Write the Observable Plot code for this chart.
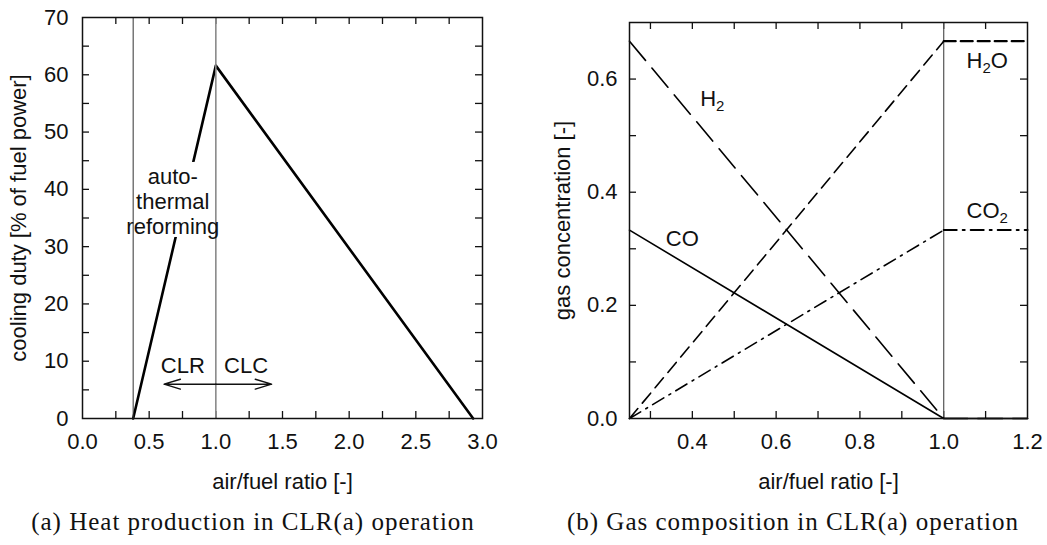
<!DOCTYPE html>
<html><head><meta charset="utf-8">
<script src="https://cdn.jsdelivr.net/npm/d3@7"></script>
<script src="https://cdn.jsdelivr.net/npm/@observablehq/plot@0.6"></script>
<style>
body{margin:0;background:#fff;}
#wrap{position:relative;width:1047px;height:545px;overflow:hidden;background:#fff;}
#left{position:absolute;left:0;top:0;}
#right{position:absolute;left:527px;top:0;}
#left svg,#right svg{display:block;}
.cap{position:absolute;top:509px;transform:translateX(-50%);font-family:"Liberation Serif","Times New Roman",serif;font-size:25px;line-height:25px;letter-spacing:1px;white-space:nowrap;color:#111;}
</style></head><body>
<div id="wrap"><div id="left"></div><div id="right"></div>
<div class="cap" id="capA" style="left:253px"></div><div class="cap" id="capB" style="left:793px"></div></div>
<script>
// ---------- panel (a): heat production ----------
const ratioA = [0.38, 1.0, 2.93];
const dutyA = [0, 61.6, 0];
const xLabelsA = [0, 0.5, 1.0, 1.5, 2.0, 2.5, 3.0];
const yLabelsA = [0, 10, 20, 30, 40, 50, 60, 70];
const refLinesA = [0.38, 1.0];
const annoTextA = ["auto-\nthermal\nreforming", "CLR", "CLC"];
const annoXA = [0.677, 0.752, 1.227];
const annoYA = [38.0, 9.3, 9.3];
const maskA = [{x1: 0.6, x2: 0.95, y1: 31.6, y2: 44.7}];
const arrowFromA = [1.0, 1.0];
const arrowToA = [0.612, 1.418];
const arrowYA = [6.0, 6.0];
const captionA = "(a) Heat production in CLR(a) operation";

// ---------- panel (b): gas composition ----------
const gasX = [0.25, 1.0, 1.2];
const gasH2 = [0.667, 0, 0];
const gasCO = [0.333, 0, 0];
const gasH2O = [0, 0.667, 0.667];
const gasCO2 = [0, 0.333, 0.333];
const xLabelsB = [0.4, 0.6, 0.8, 1.0, 1.2];
const yLabelsB = [0.0, 0.2, 0.4, 0.6];
const gasLabels = ["H₂", "CO", "H₂O", "CO₂"];
const gasLabelX = [0.4475, 0.376, 1.104, 1.104];
const gasLabelY = [0.565, 0.318, 0.632, 0.367];
const captionB = "(b) Gas composition in CLR(a) operation";

const FONT = '"Liberation Sans", Arial, Helvetica, sans-serif';
const INK = "#111";

function subscripts(svg) {
  const ns = "http://www.w3.org/2000/svg";
  svg.querySelectorAll("text").forEach(t => {
    const nodes = [];
    const w = document.createTreeWalker(t, NodeFilter.SHOW_TEXT);
    while (w.nextNode()) nodes.push(w.currentNode);
    nodes.forEach(n => {
      if (!n.nodeValue.includes("₂")) return;
      const parts = n.nodeValue.split("₂");
      const frag = document.createDocumentFragment();
      parts.forEach((p, i) => {
        if (i === 0) { if (p) frag.appendChild(document.createTextNode(p)); return; }
        const s = document.createElementNS(ns, "tspan");
        s.setAttribute("dy", "5"); s.setAttribute("font-size", "15"); s.textContent = "2";
        frag.appendChild(s);
        if (p) {
          const r = document.createElementNS(ns, "tspan");
          r.setAttribute("dy", "-5"); r.textContent = p;
          frag.appendChild(r);
        }
      });
      n.parentNode.replaceChild(frag, n);
    });
  });
}

// ---- build panel a ----
const lineA = ratioA.map((x, i) => ({x, y: dutyA[i]}));
const annoA = annoTextA.map((t, i) => ({t, x: annoXA[i], y: annoYA[i]}));
const arrowsA = arrowToA.map((x2, i) => ({x1: arrowFromA[i], x2, y: arrowYA[i]}));
const minorXA = d3.range(0.25, 3, 0.25);
const minorYA = d3.range(5, 70, 5);
const WA = 527, HA = 500, mLA = 82, mRA = 45, mTA = 17, mBA = 82;
const innerWA = WA - mLA - mRA, innerHA = HA - mTA - mBA;

const plotA = Plot.plot({
  width: WA, height: HA,
  marginLeft: mLA, marginRight: mRA, marginTop: mTA, marginBottom: mBA,
  style: {fontFamily: FONT, fontSize: "21px", overflow: "visible", background: "white", color: INK},
  x: {domain: [0, 3]},
  y: {domain: [0, 70]},
  marks: [
    Plot.tickX(minorXA, {x: d => d, insetTop: innerHA - 7, stroke: INK, strokeWidth: 1.3}),
    Plot.tickX(minorXA, {x: d => d, insetBottom: innerHA - 7, stroke: INK, strokeWidth: 1.3}),
    Plot.tickY(minorYA, {y: d => d, insetRight: innerWA - 7, stroke: INK, strokeWidth: 1.3}),
    Plot.tickY(minorYA, {y: d => d, insetLeft: innerWA - 7, stroke: INK, strokeWidth: 1.3}),
    Plot.line(lineA, {x: "x", y: "y", stroke: "#000", strokeWidth: 2.6}),
    Plot.rect(maskA, {x1: "x1", x2: "x2", y1: "y1", y2: "y2", fill: "white"}),
    Plot.ruleX([refLinesA[0]], {stroke: "#333", strokeWidth: 1}),
    Plot.ruleX([refLinesA[1]], {stroke: "#8a8a8a", strokeWidth: 1.6}),
    Plot.arrow(arrowsA, {x1: "x1", x2: "x2", y1: "y", y2: "y", stroke: INK, strokeWidth: 1.5, headLength: 17, headAngle: 34}),
    Plot.text(annoA, {x: "x", y: "y", text: "t", fontSize: 22, lineHeight: 1.14, fill: INK, textAnchor: "middle", lineAnchor: "middle"}),
    Plot.axisX(xLabelsA, {tickSize: 0, tickPadding: 15, tickFormat: d3.format(".1f"), label: "air/fuel ratio [-]", labelArrow: "none", labelAnchor: "center", labelOffset: 70, fontSize: 22}),
    Plot.axisY(yLabelsA, {tickSize: 0, tickPadding: 14, tickFormat: d3.format("d"), label: "cooling duty [% of fuel power]", labelArrow: "none", labelAnchor: "center", labelOffset: 72, fontSize: 22}),
    Plot.frame({stroke: INK, strokeWidth: 1.5})
  ]
});
document.getElementById("left").appendChild(plotA);

// ---- build panel b ----
const rowsB = gasX.map((x, i) => ({x, h2: gasH2[i], co: gasCO[i], h2o: gasH2O[i], co2: gasCO2[i]}));
const labelsB = gasLabels.map((t, i) => ({t, x: gasLabelX[i], y: gasLabelY[i]}));
const minorXB = d3.range(0.3, 1.19, 0.1);
const minorYB = d3.range(0.1, 0.69, 0.1);
const WB = 520, HB = 500, mLB = 102, mRB = 20, mTB = 22, mBB = 82;
const innerWB = WB - mLB - mRB, innerHB = HB - mTB - mBB;

const plotB = Plot.plot({
  width: WB, height: HB,
  marginLeft: mLB, marginRight: mRB, marginTop: mTB, marginBottom: mBB,
  style: {fontFamily: FONT, fontSize: "21px", overflow: "visible", background: "white", color: INK},
  x: {domain: [0.25, 1.2]},
  y: {domain: [0, 0.7]},
  marks: [
    Plot.tickX(minorXB, {x: d => d, insetTop: innerHB - 7, stroke: INK, strokeWidth: 1.3}),
    Plot.tickX(minorXB, {x: d => d, insetBottom: innerHB - 7, stroke: INK, strokeWidth: 1.3}),
    Plot.tickY(minorYB, {y: d => d, insetRight: innerWB - 7, stroke: INK, strokeWidth: 1.3}),
    Plot.tickY(minorYB, {y: d => d, insetLeft: innerWB - 7, stroke: INK, strokeWidth: 1.3}),
    Plot.ruleX([1.0], {stroke: "#555", strokeWidth: 1.2}),
    Plot.line(rowsB, {x: "x", y: "co", stroke: "#000", strokeWidth: 1.6}),
    Plot.line(rowsB, {x: "x", y: "h2", stroke: "#000", strokeWidth: 1.6, strokeDasharray: "25,10"}),
    Plot.line(rowsB, {filter: d => d.x <= 1, x: "x", y: "h2o", stroke: "#000", strokeWidth: 1.6, strokeDasharray: "13,7"}),
    Plot.line(rowsB, {filter: d => d.x >= 1, x: "x", y: "h2o", stroke: "#000", strokeWidth: 2.2, strokeDasharray: "12,5"}),
    Plot.line(rowsB, {filter: d => d.x <= 1, x: "x", y: "co2", stroke: "#000", strokeWidth: 1.6, strokeDasharray: "13,6,2,6"}),
    Plot.line(rowsB, {filter: d => d.x >= 1, x: "x", y: "co2", stroke: "#000", strokeWidth: 2, strokeDasharray: "13,6,2,6"}),
    Plot.text(labelsB, {x: "x", y: "y", text: "t", fontSize: 22, fill: INK, textAnchor: "middle", lineAnchor: "middle"}),
    Plot.axisX(xLabelsB, {tickSize: 0, tickPadding: 15, tickFormat: d3.format(".1f"), label: "air/fuel ratio [-]", labelArrow: "none", labelAnchor: "center", labelOffset: 70, fontSize: 22}),
    Plot.axisY(yLabelsB, {tickSize: 0, tickPadding: 12, tickFormat: d3.format(".1f"), label: "gas concentration [-]", labelArrow: "none", labelAnchor: "center", labelOffset: 75, fontSize: 22}),
    Plot.frame({stroke: INK, strokeWidth: 1.5})
  ]
});
subscripts(plotB);
document.getElementById("right").appendChild(plotB);

document.getElementById("capA").textContent = captionA;
document.getElementById("capB").textContent = captionB;
</script>
</body></html>
